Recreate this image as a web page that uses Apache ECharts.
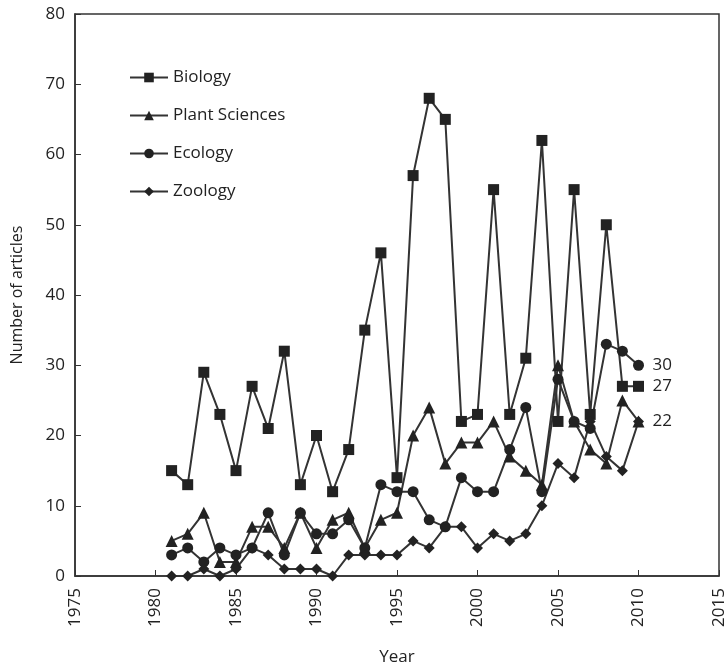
<!DOCTYPE html>
<html>
<head>
<meta charset="utf-8">
<script src="https://cdn.jsdelivr.net/npm/echarts@6/dist/echarts.min.js"></script>
<style>
  html, body { margin: 0; padding: 0; background: #fff; }
  #main { width: 727px; height: 669px; }
</style>
</head>
<body>
<div id="main"></div>
<script>
var years = [1981,1982,1983,1984,1985,1986,1987,1988,1989,1990,
             1991,1992,1993,1994,1995,1996,1997,1998,1999,2000,
             2001,2002,2003,2004,2005,2006,2007,2008,2009,2010];
var biology = [15,13,29,23,15,27,21,32,13,20,
               12,18,35,46,14,57,68,65,22,23,
               55,23,31,62,22,55,23,50,27,27];
var plantSciences = [5,6,9,2,2,7,7,4,9,4,
                     8,9,4,8,9,20,24,16,19,19,
                     22,17,15,13,30,22,18,16,25,22];
var ecology = [3,4,2,4,3,4,9,3,9,6,
               6,8,4,13,12,12,8,7,14,12,
               12,18,24,12,28,22,21,33,32,30];
var zoology = [0,0,1,0,1,4,3,1,1,1,
               0,3,3,3,3,5,4,7,7,4,
               6,5,6,10,16,14,22,17,15,22];
var xTicks = [1975, 2015, 5];
var yTicks = [0, 80, 10];

function pairs(vals){
  return years.map(function(y, i){ return [y, vals[i]]; });
}

var font = 'Open Sans';
var ink = '#222';

function mk(name, vals, symbol, size, showEnd){
  return {
    name: name,
    type: 'line',
    data: pairs(vals),
    symbol: symbol,
    symbolSize: size,
    lineStyle: { color: '#333', width: 2 },
    itemStyle: { color: ink },
    emphasis: { disabled: true },
    endLabel: {
      show: showEnd,
      color: ink,
      fontFamily: font,
      fontSize: 17,
      distance: 14,
      formatter: function(p){ return p.value[1]; }
    }
  };
}

var myChart = echarts.init(document.getElementById('main'));
var option = {
  animation: false,
  textStyle: { fontFamily: font },
  grid: { left: 75, right: 8, top: 14, bottom: 93, outerBoundsMode: 'none',
          show: true, borderColor: '#333', borderWidth: 1.5 },
  legend: {
    orient: 'vertical',
    left: 124, top: 64,
    itemGap: 21,
    itemWidth: 38, itemHeight: 12,
    textStyle: { fontFamily: font, fontSize: 17, color: ink },
    data: ['Biology', 'Plant Sciences', 'Ecology', 'Zoology']
  },
  xAxis: {
    type: 'value',
    min: xTicks[0], max: xTicks[1], interval: xTicks[2],
    name: 'Year', nameLocation: 'middle', nameGap: 73,
    nameTextStyle: { fontFamily: font, fontSize: 17, color: ink },
    axisLine: { lineStyle: { color: '#333', width: 1.5 } },
    axisTick: { inside: true, length: 6, lineStyle: { color: '#333' } },
    axisLabel: { rotate: 90, fontSize: 17, color: ink, margin: 12,
                 formatter: function(v){ return String(v); } },
    splitLine: { show: false }
  },
  yAxis: {
    type: 'value',
    min: yTicks[0], max: yTicks[1], interval: yTicks[2],
    name: 'Number of articles', nameLocation: 'middle', nameGap: 50,
    nameTextStyle: { fontFamily: font, fontSize: 16, color: ink },
    axisLine: { show: true, lineStyle: { color: '#333', width: 1.5 } },
    axisTick: { show: true, inside: true, length: 6, lineStyle: { color: '#333' } },
    axisLabel: { fontSize: 17, color: ink, margin: 10 },
    splitLine: { show: false }
  },
  series: [
    mk('Biology', biology, 'rect', 11, true),
    mk('Plant Sciences', plantSciences, 'triangle', 12, true),
    mk('Ecology', ecology, 'circle', 11, true),
    mk('Zoology', zoology, 'diamond', 11, false)
  ]
};
myChart.setOption(option);
</script>
</body>
</html>
